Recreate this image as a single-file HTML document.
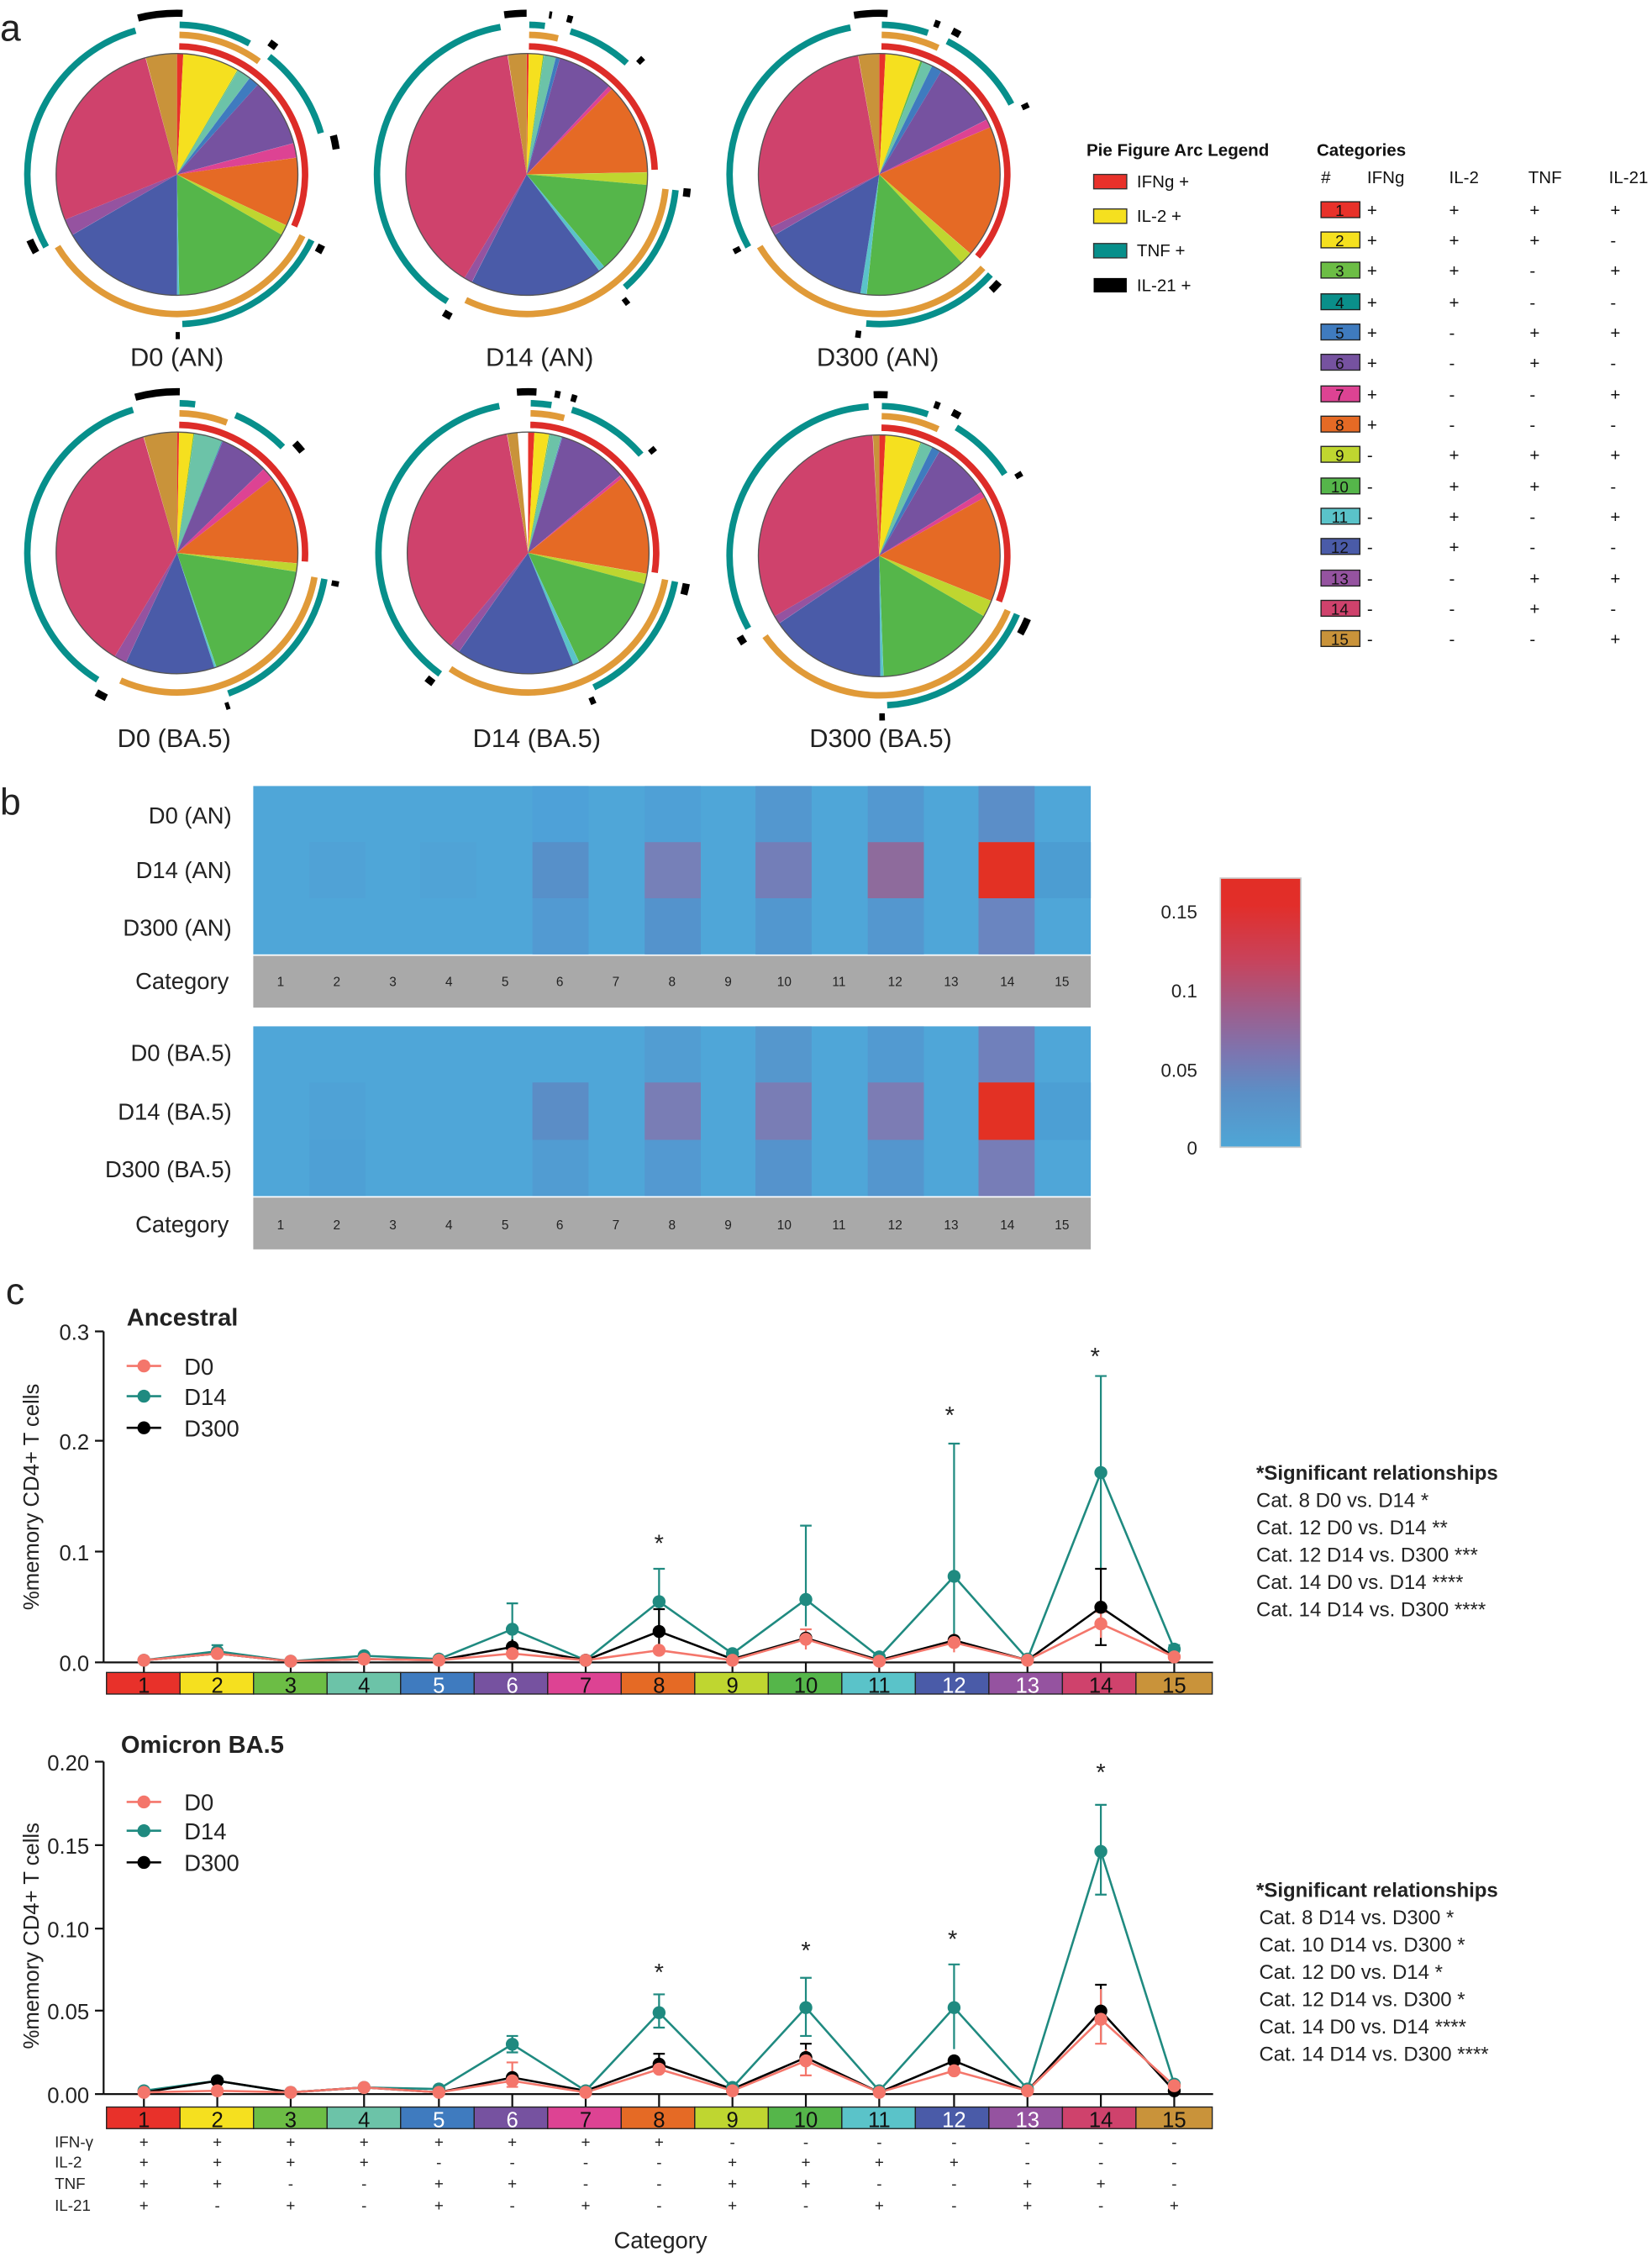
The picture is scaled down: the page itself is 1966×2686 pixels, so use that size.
<!DOCTYPE html>
<html><head><meta charset="utf-8">
<style>
html,body{margin:0;padding:0;background:#fff;}
svg{display:block;font-family:"Liberation Sans",Arial,sans-serif;}
.s{fill:none;stroke-width:84;}
.ar{fill:none;stroke:#dd2c28;stroke-width:4.5;}
.ao{fill:none;stroke:#e09a38;stroke-width:4.5;}
.at{fill:none;stroke:#078f8b;stroke-width:4.5;}
.ab{fill:none;stroke:#000;stroke-width:5;}
.c1{stroke:#e8312a}.c2{stroke:#f5e01f}.c3{stroke:#5cb946}.c4{stroke:#6cc3a8}.c5{stroke:#3f7bbf}
.c6{stroke:#7652a0}.c7{stroke:#dd4393}.c8{stroke:#e56a25}.c9{stroke:#bfd630}.c10{stroke:#55b64a}
.c11{stroke:#5ac3c9}.c12{stroke:#4a5ba8}.c13{stroke:#9553a0}.c14{stroke:#cf426c}.c15{stroke:#c9933a}
.lab{font-size:18px;text-anchor:middle;fill:#222;}
.t12{font-size:12px;fill:#111;}
.pm{font-size:12px;fill:#111;}
.hl{font-size:16px;text-anchor:end;fill:#222;}
.cn{font-size:9px;text-anchor:middle;fill:#222;}
.tk{font-size:15px;text-anchor:end;fill:#222;}
.sn{font-size:15px;text-anchor:middle;fill:#111;}
.sig{font-size:14px;fill:#222;}
.bm{font-size:11px;text-anchor:middle;fill:#222;}
</style></head><body>
<svg width="1966" height="2686" viewBox="0 0 1148 1568" xmlns="http://www.w3.org/2000/svg">
<defs>
<linearGradient id="cb" x1="0" y1="0" x2="0" y2="1">
<stop offset="0" stop-color="#e22e26"/><stop offset="0.1" stop-color="#e22e2a"/>
<stop offset="0.3" stop-color="#c9425a"/><stop offset="0.5" stop-color="#9c5f8e"/>
<stop offset="0.65" stop-color="#7c75b0"/><stop offset="0.8" stop-color="#5b8fc6"/>
<stop offset="1" stop-color="#4ea6d6"/>
</linearGradient>
</defs>
<text x="0" y="28" font-size="26" fill="#222">a</text>
<text x="0" y="566" font-size="26" fill="#222">b</text>
<text x="4" y="906" font-size="26" fill="#222">c</text>

<!-- Pie 1 D0 (AN) -->
<g transform="translate(123,121)">
<circle r="42" class="s c1" pathLength="360" stroke-dasharray="3 360" transform="rotate(-90)"/>
<circle r="42" class="s c2" pathLength="360" stroke-dasharray="27 360" transform="rotate(-87)"/>
<circle r="42" class="s c3" pathLength="360" stroke-dasharray="0.5 360" transform="rotate(-60)"/>
<circle r="42" class="s c4" pathLength="360" stroke-dasharray="6.5 360" transform="rotate(-59.5)"/>
<circle r="42" class="s c5" pathLength="360" stroke-dasharray="5 360" transform="rotate(-53)"/>
<circle r="42" class="s c6" pathLength="360" stroke-dasharray="33 360" transform="rotate(-48)"/>
<circle r="42" class="s c7" pathLength="360" stroke-dasharray="7 360" transform="rotate(-15)"/>
<circle r="42" class="s c8" pathLength="360" stroke-dasharray="33 360" transform="rotate(-8)"/>
<circle r="42" class="s c9" pathLength="360" stroke-dasharray="5 360" transform="rotate(25)"/>
<circle r="42" class="s c10" pathLength="360" stroke-dasharray="59 360" transform="rotate(30)"/>
<circle r="42" class="s c11" pathLength="360" stroke-dasharray="1 360" transform="rotate(89)"/>
<circle r="42" class="s c12" pathLength="360" stroke-dasharray="60 360" transform="rotate(90)"/>
<circle r="42" class="s c13" pathLength="360" stroke-dasharray="8 360" transform="rotate(150)"/>
<circle r="42" class="s c14" pathLength="360" stroke-dasharray="97 360" transform="rotate(158)"/>
<circle r="42" class="s c15" pathLength="360" stroke-dasharray="15 360" transform="rotate(255)"/>
<circle r="84" fill="none" stroke="#555" stroke-width="0.8"/>
<circle r="89" class="ar" pathLength="360" stroke-dasharray="113 360" transform="rotate(-89)"/>
<circle r="97" class="ao" pathLength="360" stroke-dasharray="35 360" transform="rotate(-89)"/>
<circle r="97" class="ao" pathLength="360" stroke-dasharray="123 360" transform="rotate(26)"/>
<circle r="104" class="at" pathLength="360" stroke-dasharray="28 360" transform="rotate(-89)"/>
<circle r="104" class="at" pathLength="360" stroke-dasharray="36 360" transform="rotate(-52)"/>
<circle r="104" class="at" pathLength="360" stroke-dasharray="62 360" transform="rotate(26)"/>
<circle r="104" class="at" pathLength="360" stroke-dasharray="103 360" transform="rotate(151)"/>
<circle r="112" class="ab" pathLength="360" stroke-dasharray="16 360" transform="rotate(256)"/>
<circle r="112" class="ab" pathLength="360" stroke-dasharray="3 360" transform="rotate(-55)"/>
<circle r="112" class="ab" pathLength="360" stroke-dasharray="5 360" transform="rotate(-14)"/>
<circle r="112" class="ab" pathLength="360" stroke-dasharray="3 360" transform="rotate(26)"/>
<circle r="112" class="ab" pathLength="360" stroke-dasharray="1.5 360" transform="rotate(89)"/>
<circle r="112" class="ab" pathLength="360" stroke-dasharray="5 360" transform="rotate(151)"/>
</g>
<text x="123" y="254" class="lab">D0 (AN)</text>

<!-- Pie 2 D14 (AN) -->
<g transform="translate(366,121)">
<circle r="42" class="s c1" pathLength="360" stroke-dasharray="1 360" transform="rotate(-90)"/>
<circle r="42" class="s c2" pathLength="360" stroke-dasharray="7 360" transform="rotate(-89)"/>
<circle r="42" class="s c3" pathLength="360" stroke-dasharray="0.3 360" transform="rotate(-82)"/>
<circle r="42" class="s c4" pathLength="360" stroke-dasharray="5.7 360" transform="rotate(-81.7)"/>
<circle r="42" class="s c5" pathLength="360" stroke-dasharray="2 360" transform="rotate(-76)"/>
<circle r="42" class="s c6" pathLength="360" stroke-dasharray="27 360" transform="rotate(-74)"/>
<circle r="42" class="s c7" pathLength="360" stroke-dasharray="2 360" transform="rotate(-47)"/>
<circle r="42" class="s c8" pathLength="360" stroke-dasharray="44 360" transform="rotate(-45)"/>
<circle r="42" class="s c9" pathLength="360" stroke-dasharray="6 360" transform="rotate(-1)"/>
<circle r="42" class="s c10" pathLength="360" stroke-dasharray="45 360" transform="rotate(5)"/>
<circle r="42" class="s c11" pathLength="360" stroke-dasharray="3 360" transform="rotate(50)"/>
<circle r="42" class="s c12" pathLength="360" stroke-dasharray="64 360" transform="rotate(53)"/>
<circle r="42" class="s c13" pathLength="360" stroke-dasharray="4 360" transform="rotate(117)"/>
<circle r="42" class="s c14" pathLength="360" stroke-dasharray="140 360" transform="rotate(121)"/>
<circle r="42" class="s c15" pathLength="360" stroke-dasharray="9 360" transform="rotate(261)"/>
<circle r="84" fill="none" stroke="#555" stroke-width="0.8"/>
<circle r="89" class="ar" pathLength="360" stroke-dasharray="87 360" transform="rotate(-89)"/>
<circle r="97" class="ao" pathLength="360" stroke-dasharray="12 360" transform="rotate(-89)"/>
<circle r="97" class="ao" pathLength="360" stroke-dasharray="110 360" transform="rotate(6)"/>
<circle r="104" class="at" pathLength="360" stroke-dasharray="6 360" transform="rotate(-89)"/>
<circle r="104" class="at" pathLength="360" stroke-dasharray="25 360" transform="rotate(-73)"/>
<circle r="104" class="at" pathLength="360" stroke-dasharray="43 360" transform="rotate(6)"/>
<circle r="104" class="at" pathLength="360" stroke-dasharray="138 360" transform="rotate(122)"/>
<circle r="112" class="ab" pathLength="360" stroke-dasharray="8 360" transform="rotate(262)"/>
<circle r="112" class="ab" pathLength="360" stroke-dasharray="1 360" transform="rotate(-82)"/>
<circle r="112" class="ab" pathLength="360" stroke-dasharray="2 360" transform="rotate(-75.5)"/>
<circle r="112" class="ab" pathLength="360" stroke-dasharray="2 360" transform="rotate(-46)"/>
<circle r="112" class="ab" pathLength="360" stroke-dasharray="3 360" transform="rotate(5)"/>
<circle r="112" class="ab" pathLength="360" stroke-dasharray="2 360" transform="rotate(51)"/>
<circle r="112" class="ab" pathLength="360" stroke-dasharray="3 360" transform="rotate(118)"/>
</g>
<text x="375" y="254" class="lab">D14 (AN)</text>

<!-- Pie 3 D300 (AN) -->
<g transform="translate(611,121)">
<circle r="42" class="s c1" pathLength="360" stroke-dasharray="3 360" transform="rotate(-90)"/>
<circle r="42" class="s c2" pathLength="360" stroke-dasharray="17 360" transform="rotate(-87)"/>
<circle r="42" class="s c3" pathLength="360" stroke-dasharray="1 360" transform="rotate(-70)"/>
<circle r="42" class="s c4" pathLength="360" stroke-dasharray="5 360" transform="rotate(-69)"/>
<circle r="42" class="s c5" pathLength="360" stroke-dasharray="5 360" transform="rotate(-64)"/>
<circle r="42" class="s c6" pathLength="360" stroke-dasharray="32 360" transform="rotate(-59)"/>
<circle r="42" class="s c7" pathLength="360" stroke-dasharray="4 360" transform="rotate(-27)"/>
<circle r="42" class="s c8" pathLength="360" stroke-dasharray="64 360" transform="rotate(-23)"/>
<circle r="42" class="s c9" pathLength="360" stroke-dasharray="6 360" transform="rotate(41)"/>
<circle r="42" class="s c10" pathLength="360" stroke-dasharray="49 360" transform="rotate(47)"/>
<circle r="42" class="s c11" pathLength="360" stroke-dasharray="3 360" transform="rotate(96)"/>
<circle r="42" class="s c12" pathLength="360" stroke-dasharray="51 360" transform="rotate(99)"/>
<circle r="42" class="s c13" pathLength="360" stroke-dasharray="4 360" transform="rotate(150)"/>
<circle r="42" class="s c14" pathLength="360" stroke-dasharray="106 360" transform="rotate(154)"/>
<circle r="42" class="s c15" pathLength="360" stroke-dasharray="10 360" transform="rotate(260)"/>
<circle r="84" fill="none" stroke="#555" stroke-width="0.8"/>
<circle r="89" class="ar" pathLength="360" stroke-dasharray="129 360" transform="rotate(-89)"/>
<circle r="97" class="ao" pathLength="360" stroke-dasharray="24 360" transform="rotate(-89)"/>
<circle r="97" class="ao" pathLength="360" stroke-dasharray="107 360" transform="rotate(42)"/>
<circle r="104" class="at" pathLength="360" stroke-dasharray="18 360" transform="rotate(-89)"/>
<circle r="104" class="at" pathLength="360" stroke-dasharray="35 360" transform="rotate(-63)"/>
<circle r="104" class="at" pathLength="360" stroke-dasharray="53 360" transform="rotate(42)"/>
<circle r="104" class="at" pathLength="360" stroke-dasharray="108 360" transform="rotate(151)"/>
<circle r="112" class="ab" pathLength="360" stroke-dasharray="12 360" transform="rotate(261)"/>
<circle r="112" class="ab" pathLength="360" stroke-dasharray="2 360" transform="rotate(-70)"/>
<circle r="112" class="ab" pathLength="360" stroke-dasharray="3 360" transform="rotate(-63)"/>
<circle r="112" class="ab" pathLength="360" stroke-dasharray="2 360" transform="rotate(-26)"/>
<circle r="112" class="ab" pathLength="360" stroke-dasharray="4 360" transform="rotate(42)"/>
<circle r="112" class="ab" pathLength="360" stroke-dasharray="2 360" transform="rotate(96.5)"/>
<circle r="112" class="ab" pathLength="360" stroke-dasharray="2 360" transform="rotate(151)"/>
</g>
<text x="610" y="254" class="lab">D300 (AN)</text>

<!-- Pie 4 D0 (BA.5) -->
<g transform="translate(123,384)">
<circle r="42" class="s c1" pathLength="360" stroke-dasharray="1 360" transform="rotate(-90)"/>
<circle r="42" class="s c2" pathLength="360" stroke-dasharray="7 360" transform="rotate(-89)"/>
<circle r="42" class="s c3" pathLength="360" stroke-dasharray="0.3 360" transform="rotate(-82)"/>
<circle r="42" class="s c4" pathLength="360" stroke-dasharray="13.7 360" transform="rotate(-81.7)"/>
<circle r="42" class="s c5" pathLength="360" stroke-dasharray="0.3 360" transform="rotate(-68)"/>
<circle r="42" class="s c6" pathLength="360" stroke-dasharray="23.7 360" transform="rotate(-67.7)"/>
<circle r="42" class="s c7" pathLength="360" stroke-dasharray="6 360" transform="rotate(-44)"/>
<circle r="42" class="s c8" pathLength="360" stroke-dasharray="43 360" transform="rotate(-38)"/>
<circle r="42" class="s c9" pathLength="360" stroke-dasharray="4 360" transform="rotate(5)"/>
<circle r="42" class="s c10" pathLength="360" stroke-dasharray="62 360" transform="rotate(9)"/>
<circle r="42" class="s c11" pathLength="360" stroke-dasharray="1 360" transform="rotate(71)"/>
<circle r="42" class="s c12" pathLength="360" stroke-dasharray="43 360" transform="rotate(72)"/>
<circle r="42" class="s c13" pathLength="360" stroke-dasharray="6 360" transform="rotate(115)"/>
<circle r="42" class="s c14" pathLength="360" stroke-dasharray="133 360" transform="rotate(121)"/>
<circle r="42" class="s c15" pathLength="360" stroke-dasharray="16 360" transform="rotate(254)"/>
<circle r="84" fill="none" stroke="#555" stroke-width="0.8"/>
<circle r="89" class="ar" pathLength="360" stroke-dasharray="93 360" transform="rotate(-89)"/>
<circle r="97" class="ao" pathLength="360" stroke-dasharray="20 360" transform="rotate(-89)"/>
<circle r="97" class="ao" pathLength="360" stroke-dasharray="104 360" transform="rotate(10)"/>
<circle r="104" class="at" pathLength="360" stroke-dasharray="6 360" transform="rotate(-89)"/>
<circle r="104" class="at" pathLength="360" stroke-dasharray="22 360" transform="rotate(-67)"/>
<circle r="104" class="at" pathLength="360" stroke-dasharray="60 360" transform="rotate(10)"/>
<circle r="104" class="at" pathLength="360" stroke-dasharray="131 360" transform="rotate(122)"/>
<circle r="112" class="ab" pathLength="360" stroke-dasharray="16 360" transform="rotate(255)"/>
<circle r="112" class="ab" pathLength="360" stroke-dasharray="4 360" transform="rotate(-43)"/>
<circle r="112" class="ab" pathLength="360" stroke-dasharray="2 360" transform="rotate(10)"/>
<circle r="112" class="ab" pathLength="360" stroke-dasharray="1.5 360" transform="rotate(71)"/>
<circle r="112" class="ab" pathLength="360" stroke-dasharray="4 360" transform="rotate(116)"/>
</g>
<text x="121" y="519" class="lab">D0 (BA.5)</text>

<!-- Pie 5 D14 (BA.5) -->
<g transform="translate(367,384)">
<circle r="42" class="s c1" pathLength="360" stroke-dasharray="3 360" transform="rotate(-90)"/>
<circle r="42" class="s c2" pathLength="360" stroke-dasharray="7 360" transform="rotate(-87)"/>
<circle r="42" class="s c3" pathLength="360" stroke-dasharray="0.5 360" transform="rotate(-80)"/>
<circle r="42" class="s c4" pathLength="360" stroke-dasharray="5.5 360" transform="rotate(-79.5)"/>
<circle r="42" class="s c5" pathLength="360" stroke-dasharray="0.5 360" transform="rotate(-74)"/>
<circle r="42" class="s c6" pathLength="360" stroke-dasharray="33.5 360" transform="rotate(-73.5)"/>
<circle r="42" class="s c7" pathLength="360" stroke-dasharray="1.5 360" transform="rotate(-40)"/>
<circle r="42" class="s c8" pathLength="360" stroke-dasharray="48.5 360" transform="rotate(-38.5)"/>
<circle r="42" class="s c9" pathLength="360" stroke-dasharray="5 360" transform="rotate(10)"/>
<circle r="42" class="s c10" pathLength="360" stroke-dasharray="50 360" transform="rotate(15)"/>
<circle r="42" class="s c11" pathLength="360" stroke-dasharray="3 360" transform="rotate(65)"/>
<circle r="42" class="s c12" pathLength="360" stroke-dasharray="57 360" transform="rotate(68)"/>
<circle r="42" class="s c13" pathLength="360" stroke-dasharray="5 360" transform="rotate(125)"/>
<circle r="42" class="s c14" pathLength="360" stroke-dasharray="130 360" transform="rotate(130)"/>
<circle r="42" class="s c15" pathLength="360" stroke-dasharray="5 360" transform="rotate(260)"/>
<circle r="84" fill="none" stroke="#555" stroke-width="0.8"/>
<circle r="89" class="ar" pathLength="360" stroke-dasharray="98 360" transform="rotate(-89)"/>
<circle r="97" class="ao" pathLength="360" stroke-dasharray="14 360" transform="rotate(-89)"/>
<circle r="97" class="ao" pathLength="360" stroke-dasharray="113 360" transform="rotate(11)"/>
<circle r="104" class="at" pathLength="360" stroke-dasharray="8 360" transform="rotate(-89)"/>
<circle r="104" class="at" pathLength="360" stroke-dasharray="32 360" transform="rotate(-73)"/>
<circle r="104" class="at" pathLength="360" stroke-dasharray="53 360" transform="rotate(11)"/>
<circle r="104" class="at" pathLength="360" stroke-dasharray="133 360" transform="rotate(126)"/>
<circle r="112" class="ab" pathLength="360" stroke-dasharray="7 360" transform="rotate(266)"/>
<circle r="112" class="ab" pathLength="360" stroke-dasharray="2 360" transform="rotate(-80.5)"/>
<circle r="112" class="ab" pathLength="360" stroke-dasharray="2 360" transform="rotate(-74.5)"/>
<circle r="112" class="ab" pathLength="360" stroke-dasharray="2 360" transform="rotate(-40.5)"/>
<circle r="112" class="ab" pathLength="360" stroke-dasharray="4 360" transform="rotate(11)"/>
<circle r="112" class="ab" pathLength="360" stroke-dasharray="2 360" transform="rotate(65.5)"/>
<circle r="112" class="ab" pathLength="360" stroke-dasharray="3 360" transform="rotate(126)"/>
</g>
<text x="373" y="519" class="lab">D14 (BA.5)</text>

<!-- Pie 6 D300 (BA.5) -->
<g transform="translate(611,386)">
<circle r="42" class="s c1" pathLength="360" stroke-dasharray="3 360" transform="rotate(-90)"/>
<circle r="42" class="s c2" pathLength="360" stroke-dasharray="17 360" transform="rotate(-87)"/>
<circle r="42" class="s c3" pathLength="360" stroke-dasharray="0.5 360" transform="rotate(-70)"/>
<circle r="42" class="s c4" pathLength="360" stroke-dasharray="5.5 360" transform="rotate(-69.5)"/>
<circle r="42" class="s c5" pathLength="360" stroke-dasharray="4 360" transform="rotate(-64)"/>
<circle r="42" class="s c6" pathLength="360" stroke-dasharray="28 360" transform="rotate(-60)"/>
<circle r="42" class="s c7" pathLength="360" stroke-dasharray="3 360" transform="rotate(-32)"/>
<circle r="42" class="s c8" pathLength="360" stroke-dasharray="51 360" transform="rotate(-29)"/>
<circle r="42" class="s c9" pathLength="360" stroke-dasharray="8 360" transform="rotate(22)"/>
<circle r="42" class="s c10" pathLength="360" stroke-dasharray="58 360" transform="rotate(30)"/>
<circle r="42" class="s c11" pathLength="360" stroke-dasharray="1.5 360" transform="rotate(88)"/>
<circle r="42" class="s c12" pathLength="360" stroke-dasharray="56.5 360" transform="rotate(89.5)"/>
<circle r="42" class="s c13" pathLength="360" stroke-dasharray="4 360" transform="rotate(146)"/>
<circle r="42" class="s c14" pathLength="360" stroke-dasharray="117 360" transform="rotate(150)"/>
<circle r="42" class="s c15" pathLength="360" stroke-dasharray="3 360" transform="rotate(267)"/>
<circle r="84" fill="none" stroke="#555" stroke-width="0.8"/>
<circle r="89" class="ar" pathLength="360" stroke-dasharray="110 360" transform="rotate(-89)"/>
<circle r="97" class="ao" pathLength="360" stroke-dasharray="24 360" transform="rotate(-89)"/>
<circle r="97" class="ao" pathLength="360" stroke-dasharray="122 360" transform="rotate(23)"/>
<circle r="104" class="at" pathLength="360" stroke-dasharray="18 360" transform="rotate(-89)"/>
<circle r="104" class="at" pathLength="360" stroke-dasharray="26 360" transform="rotate(-59)"/>
<circle r="104" class="at" pathLength="360" stroke-dasharray="64 360" transform="rotate(23)"/>
<circle r="104" class="at" pathLength="360" stroke-dasharray="115 360" transform="rotate(151)"/>
<circle r="112" class="ab" pathLength="360" stroke-dasharray="5 360" transform="rotate(268)"/>
<circle r="112" class="ab" pathLength="360" stroke-dasharray="2 360" transform="rotate(-70)"/>
<circle r="112" class="ab" pathLength="360" stroke-dasharray="3 360" transform="rotate(-63)"/>
<circle r="112" class="ab" pathLength="360" stroke-dasharray="2 360" transform="rotate(-31)"/>
<circle r="112" class="ab" pathLength="360" stroke-dasharray="6 360" transform="rotate(23)"/>
<circle r="112" class="ab" pathLength="360" stroke-dasharray="2 360" transform="rotate(88)"/>
<circle r="112" class="ab" pathLength="360" stroke-dasharray="3 360" transform="rotate(147)"/>
</g>
<text x="612" y="519" class="lab">D300 (BA.5)</text>

<!-- Arc legend -->
<text x="755" y="108" font-size="12" font-weight="bold" fill="#111">Pie Figure Arc Legend</text>
<rect x="760" y="121" width="23" height="10" fill="#e8312a" stroke="#333" stroke-width="0.8"/>
<text x="790" y="130" class="t12">IFNg +</text>
<rect x="760" y="145" width="23" height="10" fill="#f5e01f" stroke="#333" stroke-width="0.8"/>
<text x="790" y="154" class="t12">IL-2 +</text>
<rect x="760" y="169" width="23" height="10" fill="#078f8b" stroke="#333" stroke-width="0.8"/>
<text x="790" y="178" class="t12">TNF +</text>
<rect x="760" y="193" width="23" height="10" fill="#000"/>
<text x="790" y="202" class="t12">IL-21 +</text>

<!-- Categories table -->
<text x="915" y="108" font-size="12" font-weight="bold" fill="#111">Categories</text>
<text x="918" y="127" class="t12">#</text>
<text x="950" y="127" class="t12">IFNg</text>
<text x="1007" y="127" class="t12">IL-2</text>
<text x="1062" y="127" class="t12">TNF</text>
<text x="1118" y="127" class="t12">IL-21</text>
<g font-size="11" text-anchor="middle" fill="#111">
<rect x="918" y="140" width="27" height="11" fill="#e8312a" stroke="#222" stroke-width="0.8"/><text x="931" y="150">1</text>
<rect x="918" y="161" width="27" height="11" fill="#f5e01f" stroke="#222" stroke-width="0.8"/><text x="931" y="171">2</text>
<rect x="918" y="182" width="27" height="11" fill="#6cbd45" stroke="#222" stroke-width="0.8"/><text x="931" y="192">3</text>
<rect x="918" y="204" width="27" height="11" fill="#0a8f8a" stroke="#222" stroke-width="0.8"/><text x="931" y="214">4</text>
<rect x="918" y="225" width="27" height="11" fill="#3f7bbf" stroke="#222" stroke-width="0.8"/><text x="931" y="235">5</text>
<rect x="918" y="246" width="27" height="11" fill="#7652a0" stroke="#222" stroke-width="0.8"/><text x="931" y="256">6</text>
<rect x="918" y="268" width="27" height="11" fill="#dd4393" stroke="#222" stroke-width="0.8"/><text x="931" y="278">7</text>
<rect x="918" y="289" width="27" height="11" fill="#e56a25" stroke="#222" stroke-width="0.8"/><text x="931" y="299">8</text>
<rect x="918" y="310" width="27" height="11" fill="#bfd630" stroke="#222" stroke-width="0.8"/><text x="931" y="320">9</text>
<rect x="918" y="332" width="27" height="11" fill="#55b64a" stroke="#222" stroke-width="0.8"/><text x="931" y="342">10</text>
<rect x="918" y="353" width="27" height="11" fill="#5ac3c9" stroke="#222" stroke-width="0.8"/><text x="931" y="363">11</text>
<rect x="918" y="374" width="27" height="11" fill="#4a5ba8" stroke="#222" stroke-width="0.8"/><text x="931" y="384">12</text>
<rect x="918" y="396" width="27" height="11" fill="#9553a0" stroke="#222" stroke-width="0.8"/><text x="931" y="406">13</text>
<rect x="918" y="417" width="27" height="11" fill="#cf426c" stroke="#222" stroke-width="0.8"/><text x="931" y="427">14</text>
<rect x="918" y="438" width="27" height="11" fill="#c9933a" stroke="#222" stroke-width="0.8"/><text x="931" y="448">15</text>
</g>
<g class="pm">
<text x="950" y="150">+</text><text x="1007" y="150">+</text><text x="1063" y="150">+</text><text x="1119" y="150">+</text>
<text x="950" y="171">+</text><text x="1007" y="171">+</text><text x="1063" y="171">+</text><text x="1119" y="171">-</text>
<text x="950" y="192">+</text><text x="1007" y="192">+</text><text x="1063" y="192">-</text><text x="1119" y="192">+</text>
<text x="950" y="214">+</text><text x="1007" y="214">+</text><text x="1063" y="214">-</text><text x="1119" y="214">-</text>
<text x="950" y="235">+</text><text x="1007" y="235">-</text><text x="1063" y="235">+</text><text x="1119" y="235">+</text>
<text x="950" y="256">+</text><text x="1007" y="256">-</text><text x="1063" y="256">+</text><text x="1119" y="256">-</text>
<text x="950" y="278">+</text><text x="1007" y="278">-</text><text x="1063" y="278">-</text><text x="1119" y="278">+</text>
<text x="950" y="299">+</text><text x="1007" y="299">-</text><text x="1063" y="299">-</text><text x="1119" y="299">-</text>
<text x="950" y="320">-</text><text x="1007" y="320">+</text><text x="1063" y="320">+</text><text x="1119" y="320">+</text>
<text x="950" y="342">-</text><text x="1007" y="342">+</text><text x="1063" y="342">+</text><text x="1119" y="342">-</text>
<text x="950" y="363">-</text><text x="1007" y="363">+</text><text x="1063" y="363">-</text><text x="1119" y="363">+</text>
<text x="950" y="384">-</text><text x="1007" y="384">+</text><text x="1063" y="384">-</text><text x="1119" y="384">-</text>
<text x="950" y="406">-</text><text x="1007" y="406">-</text><text x="1063" y="406">+</text><text x="1119" y="406">+</text>
<text x="950" y="427">-</text><text x="1007" y="427">-</text><text x="1063" y="427">+</text><text x="1119" y="427">-</text>
<text x="950" y="448">-</text><text x="1007" y="448">-</text><text x="1063" y="448">-</text><text x="1119" y="448">+</text>
</g>

<!-- Panel b heatmaps -->
<rect x="176" y="546" width="582" height="117" fill="#4fa6d8"/>
<g>
<rect x="370" y="546" width="39" height="39" fill="#4ea1d8"/>
<rect x="448" y="546" width="39" height="39" fill="#4fa0d6"/>
<rect x="525" y="546" width="39" height="39" fill="#5397cf"/>
<rect x="603" y="546" width="39" height="39" fill="#5398d0"/>
<rect x="680" y="546" width="39" height="39" fill="#5b8ec8"/>
<rect x="215" y="585" width="39" height="39" fill="#50a2d6"/>
<rect x="292" y="585" width="39" height="39" fill="#50a3d6"/>
<rect x="370" y="585" width="39" height="39" fill="#5790c9"/>
<rect x="448" y="585" width="39" height="39" fill="#7680b8"/>
<rect x="525" y="585" width="39" height="39" fill="#737eb8"/>
<rect x="603" y="585" width="39" height="39" fill="#8e6b9c"/>
<rect x="680" y="585" width="39" height="39" fill="#e33124"/>
<rect x="719" y="585" width="39" height="39" fill="#4c9dd2"/>
<rect x="370" y="624" width="39" height="39" fill="#529ad2"/>
<rect x="448" y="624" width="39" height="39" fill="#5493cc"/>
<rect x="525" y="624" width="39" height="39" fill="#5297cf"/>
<rect x="603" y="624" width="39" height="39" fill="#5497cf"/>
<rect x="680" y="624" width="39" height="39" fill="#6a85c0"/>
</g>
<rect x="176" y="664" width="582" height="36" fill="#a9a9a9"/>
<rect x="176" y="713" width="582" height="118" fill="#4fa6d8"/>
<g>
<rect x="448" y="713" width="39" height="39" fill="#529dd2"/>
<rect x="525" y="713" width="39" height="39" fill="#5597cd"/>
<rect x="603" y="713" width="39" height="39" fill="#529ad1"/>
<rect x="680" y="713" width="39" height="39" fill="#7080bb"/>
<rect x="215" y="752" width="39" height="40" fill="#4fa2d6"/>
<rect x="370" y="752" width="39" height="40" fill="#5b8dc6"/>
<rect x="448" y="752" width="39" height="40" fill="#797db5"/>
<rect x="525" y="752" width="39" height="40" fill="#797db5"/>
<rect x="603" y="752" width="39" height="40" fill="#7c7cb4"/>
<rect x="680" y="752" width="39" height="40" fill="#e33124"/>
<rect x="719" y="752" width="39" height="40" fill="#4c9fd4"/>
<rect x="215" y="792" width="39" height="39" fill="#4ea0d5"/>
<rect x="370" y="792" width="39" height="39" fill="#519cd2"/>
<rect x="448" y="792" width="39" height="39" fill="#5399d1"/>
<rect x="525" y="792" width="39" height="39" fill="#5593cc"/>
<rect x="603" y="792" width="39" height="39" fill="#5496ce"/>
<rect x="680" y="792" width="39" height="39" fill="#777db7"/>
</g>
<rect x="176" y="832" width="582" height="36" fill="#a9a9a9"/>
<g class="hl">
<text x="161" y="572">D0 (AN)</text>
<text x="161" y="610">D14 (AN)</text>
<text x="161" y="650">D300 (AN)</text>
<text x="159" y="687">Category</text>
<text x="161" y="737">D0 (BA.5)</text>
<text x="161" y="778">D14 (BA.5)</text>
<text x="161" y="818">D300 (BA.5)</text>
<text x="159" y="856">Category</text>
</g>
<g class="cn">
<text x="195" y="685">1</text><text x="234" y="685">2</text><text x="273" y="685">3</text><text x="312" y="685">4</text><text x="351" y="685">5</text><text x="389" y="685">6</text><text x="428" y="685">7</text><text x="467" y="685">8</text><text x="506" y="685">9</text><text x="545" y="685">10</text><text x="583" y="685">11</text><text x="622" y="685">12</text><text x="661" y="685">13</text><text x="700" y="685">14</text><text x="738" y="685">15</text>
<text x="195" y="854">1</text><text x="234" y="854">2</text><text x="273" y="854">3</text><text x="312" y="854">4</text><text x="351" y="854">5</text><text x="389" y="854">6</text><text x="428" y="854">7</text><text x="467" y="854">8</text><text x="506" y="854">9</text><text x="545" y="854">10</text><text x="583" y="854">11</text><text x="622" y="854">12</text><text x="661" y="854">13</text><text x="700" y="854">14</text><text x="738" y="854">15</text>
</g>
<rect x="848" y="610" width="56" height="187" fill="url(#cb)" stroke="#ccc" stroke-width="1"/>
<g font-size="13" text-anchor="end" fill="#222">
<text x="832" y="638">0.15</text><text x="832" y="693">0.1</text><text x="832" y="748">0.05</text><text x="832" y="802">0</text>
</g>

<!-- Panel c top chart -->
<text x="88" y="921" font-size="17" font-weight="bold" fill="#222">Ancestral</text>
<line x1="72" y1="925" x2="72" y2="1155" stroke="#111" stroke-width="1.3"/>
<line x1="72" y1="1155" x2="843" y2="1155" stroke="#111" stroke-width="1.3"/>
<g stroke="#111" stroke-width="1.3">
<line x1="66" y1="925" x2="72" y2="925"/><line x1="66" y1="1001" x2="72" y2="1001"/><line x1="66" y1="1078" x2="72" y2="1078"/><line x1="66" y1="1155" x2="72" y2="1155"/>
<line x1="100" y1="1155" x2="100" y2="1162"/><line x1="151" y1="1155" x2="151" y2="1162"/><line x1="202" y1="1155" x2="202" y2="1162"/><line x1="253" y1="1155" x2="253" y2="1162"/><line x1="305" y1="1155" x2="305" y2="1162"/><line x1="356" y1="1155" x2="356" y2="1162"/><line x1="407" y1="1155" x2="407" y2="1162"/><line x1="458" y1="1155" x2="458" y2="1162"/><line x1="509" y1="1155" x2="509" y2="1162"/><line x1="560" y1="1155" x2="560" y2="1162"/><line x1="611" y1="1155" x2="611" y2="1162"/><line x1="663" y1="1155" x2="663" y2="1162"/><line x1="714" y1="1155" x2="714" y2="1162"/><line x1="765" y1="1155" x2="765" y2="1162"/><line x1="816" y1="1155" x2="816" y2="1162"/>
</g>
<g class="tk"><text x="62" y="931">0.3</text><text x="62" y="1007">0.2</text><text x="62" y="1084">0.1</text><text x="62" y="1161">0.0</text></g>
<text transform="translate(27,1040) rotate(-90)" font-size="15" text-anchor="middle" fill="#222">%memory CD4+ T cells</text>
<!-- strip top -->
<g stroke="#222" stroke-width="0.8">
<rect x="74" y="1162" width="51.1" height="15" fill="#e8312a"/><rect x="125.1" y="1162" width="51.1" height="15" fill="#f5e01f"/><rect x="176.2" y="1162" width="51.1" height="15" fill="#6cbd45"/><rect x="227.3" y="1162" width="51.1" height="15" fill="#6cc3a8"/><rect x="278.4" y="1162" width="51.1" height="15" fill="#3f7bbf"/><rect x="329.5" y="1162" width="51.1" height="15" fill="#7652a0"/><rect x="380.6" y="1162" width="51.1" height="15" fill="#dd4393"/><rect x="431.7" y="1162" width="51.1" height="15" fill="#e56a25"/><rect x="482.8" y="1162" width="51.1" height="15" fill="#bfd630"/><rect x="533.9" y="1162" width="51.1" height="15" fill="#55b64a"/><rect x="585" y="1162" width="51.1" height="15" fill="#5ac3c9"/><rect x="636.1" y="1162" width="51.1" height="15" fill="#4a5ba8"/><rect x="687.2" y="1162" width="51.1" height="15" fill="#9553a0"/><rect x="738.3" y="1162" width="51.1" height="15" fill="#cf426c"/><rect x="789.4" y="1162" width="53" height="15" fill="#c9933a"/>
</g>
<g class="sn">
<text x="100" y="1176">1</text><text x="151" y="1176">2</text><text x="202" y="1176">3</text><text x="253" y="1176">4</text><text x="305" y="1176" fill="#fff">5</text><text x="356" y="1176" fill="#fff">6</text><text x="407" y="1176">7</text><text x="458" y="1176">8</text><text x="509" y="1176">9</text><text x="560" y="1176">10</text><text x="611" y="1176">11</text><text x="663" y="1176" fill="#fff">12</text><text x="714" y="1176" fill="#fff">13</text><text x="765" y="1176">14</text><text x="816" y="1176">15</text>
</g>
<!-- error bars top -->
<g stroke="#1f8a80" stroke-width="1.3">
<path d="M151 1143V1151M147 1143H155M356 1114V1147M352 1114H360M458 1090V1136M454 1090H462M560 1060V1130M556 1060H564M663 1003V1140M659 1003H667M765 956V1090M761 956H769M816 1143H820M812 1143H820"/>
</g>
<g stroke="#000" stroke-width="1.3">
<path d="M765 1090V1143M761 1090H769M761 1143H769M458 1118V1146M454 1118H462M356 1139V1148"/>
</g>
<g stroke="#f4766b" stroke-width="1.3"><path d="M560 1132V1146M556 1132H564M765 1120V1138M761 1120H769M663 1135V1148"/></g>
<polyline fill="none" stroke="#1f8a80" stroke-width="1.5" points="100,1153.5 151,1147.3 202,1154.2 253,1150.4 305,1152.7 356,1132 407,1153.5 458,1112.8 509,1148.9 560,1111.3 611,1151.2 663,1095.2 714,1152.7 765,1023.1 816,1145.8"/>
<polyline fill="none" stroke="#000" stroke-width="1.5" points="100,1153.5 151,1148.9 202,1154.2 253,1152.7 305,1153.5 356,1144.3 407,1153.5 458,1133.5 509,1152.7 560,1138.1 611,1153.5 663,1139.7 714,1153.5 765,1116.7 816,1151.2"/>
<polyline fill="none" stroke="#f4766b" stroke-width="1.5" points="100,1153.5 151,1148.9 202,1154.2 253,1152.7 305,1153.5 356,1148.9 407,1153.5 458,1146.6 509,1153.5 560,1138.9 611,1154.2 663,1141.2 714,1153.5 765,1128.2 816,1151.2"/>
<g fill="#1f8a80"><circle cx="100" cy="1153.5" r="4.5"/><circle cx="151" cy="1147.3" r="4.5"/><circle cx="202" cy="1154.2" r="4.5"/><circle cx="253" cy="1150.4" r="4.5"/><circle cx="305" cy="1152.7" r="4.5"/><circle cx="356" cy="1132" r="4.5"/><circle cx="407" cy="1153.5" r="4.5"/><circle cx="458" cy="1112.8" r="4.5"/><circle cx="509" cy="1148.9" r="4.5"/><circle cx="560" cy="1111.3" r="4.5"/><circle cx="611" cy="1151.2" r="4.5"/><circle cx="663" cy="1095.2" r="4.5"/><circle cx="714" cy="1152.7" r="4.5"/><circle cx="765" cy="1023.1" r="4.5"/><circle cx="816" cy="1145.8" r="4.5"/></g>
<g fill="#000"><circle cx="356" cy="1144.3" r="4.5"/><circle cx="458" cy="1133.5" r="4.5"/><circle cx="560" cy="1138.1" r="4.5"/><circle cx="663" cy="1139.7" r="4.5"/><circle cx="765" cy="1116.7" r="4.5"/><circle cx="407" cy="1153.5" r="4.5"/></g>
<g fill="#f4766b"><circle cx="100" cy="1153.5" r="4.5"/><circle cx="151" cy="1148.9" r="4.5"/><circle cx="202" cy="1154.2" r="4.5"/><circle cx="253" cy="1152.7" r="4.5"/><circle cx="305" cy="1153.5" r="4.5"/><circle cx="356" cy="1148.9" r="4.5"/><circle cx="407" cy="1153.5" r="4.5"/><circle cx="458" cy="1146.6" r="4.5"/><circle cx="509" cy="1153.5" r="4.5"/><circle cx="560" cy="1138.9" r="4.5"/><circle cx="611" cy="1154.2" r="4.5"/><circle cx="663" cy="1141.2" r="4.5"/><circle cx="714" cy="1153.5" r="4.5"/><circle cx="765" cy="1128.2" r="4.5"/><circle cx="816" cy="1151.2" r="4.5"/></g>
<g font-size="17" text-anchor="middle" fill="#222"><text x="458" y="1078">*</text><text x="660" y="989">*</text><text x="761" y="948">*</text></g>
<!-- legend top -->
<g><line x1="88" y1="949" x2="112" y2="949" stroke="#f4766b" stroke-width="1.5"/><circle cx="100" cy="949" r="4.5" fill="#f4766b"/>
<line x1="88" y1="970" x2="112" y2="970" stroke="#1f8a80" stroke-width="1.5"/><circle cx="100" cy="970" r="4.5" fill="#1f8a80"/>
<line x1="88" y1="992" x2="112" y2="992" stroke="#000" stroke-width="1.5"/><circle cx="100" cy="992" r="4.5" fill="#000"/></g>
<g font-size="16" fill="#222"><text x="128" y="955">D0</text><text x="128" y="976">D14</text><text x="128" y="998">D300</text></g>
<text x="873" y="1028" font-size="14" font-weight="bold" fill="#222">*Significant relationships</text>
<g class="sig"><text x="873" y="1047">Cat. 8 D0 vs. D14 *</text><text x="873" y="1066">Cat. 12 D0 vs. D14 **</text><text x="873" y="1085">Cat. 12 D14 vs. D300 ***</text><text x="873" y="1104">Cat. 14 D0 vs. D14 ****</text><text x="873" y="1123">Cat. 14 D14 vs. D300 ****</text></g>

<!-- Panel c bottom chart -->
<text x="84" y="1218" font-size="17" font-weight="bold" fill="#222">Omicron BA.5</text>
<line x1="72" y1="1224" x2="72" y2="1455" stroke="#111" stroke-width="1.3"/>
<line x1="72" y1="1455" x2="843" y2="1455" stroke="#111" stroke-width="1.3"/>
<g stroke="#111" stroke-width="1.3">
<line x1="66" y1="1224" x2="72" y2="1224"/><line x1="66" y1="1282" x2="72" y2="1282"/><line x1="66" y1="1340" x2="72" y2="1340"/><line x1="66" y1="1397" x2="72" y2="1397"/><line x1="66" y1="1455" x2="72" y2="1455"/>
<line x1="100" y1="1455" x2="100" y2="1464"/><line x1="151" y1="1455" x2="151" y2="1464"/><line x1="202" y1="1455" x2="202" y2="1464"/><line x1="253" y1="1455" x2="253" y2="1464"/><line x1="305" y1="1455" x2="305" y2="1464"/><line x1="356" y1="1455" x2="356" y2="1464"/><line x1="407" y1="1455" x2="407" y2="1464"/><line x1="458" y1="1455" x2="458" y2="1464"/><line x1="509" y1="1455" x2="509" y2="1464"/><line x1="560" y1="1455" x2="560" y2="1464"/><line x1="611" y1="1455" x2="611" y2="1464"/><line x1="663" y1="1455" x2="663" y2="1464"/><line x1="714" y1="1455" x2="714" y2="1464"/><line x1="765" y1="1455" x2="765" y2="1464"/><line x1="816" y1="1455" x2="816" y2="1464"/>
</g>
<g class="tk"><text x="62" y="1230">0.20</text><text x="62" y="1288">0.15</text><text x="62" y="1346">0.10</text><text x="62" y="1403">0.05</text><text x="62" y="1461">0.00</text></g>
<text transform="translate(27,1345) rotate(-90)" font-size="15" text-anchor="middle" fill="#222">%memory CD4+ T cells</text>
<g stroke="#222" stroke-width="0.8">
<rect x="74" y="1464" width="51.1" height="15" fill="#e8312a"/><rect x="125.1" y="1464" width="51.1" height="15" fill="#f5e01f"/><rect x="176.2" y="1464" width="51.1" height="15" fill="#6cbd45"/><rect x="227.3" y="1464" width="51.1" height="15" fill="#6cc3a8"/><rect x="278.4" y="1464" width="51.1" height="15" fill="#3f7bbf"/><rect x="329.5" y="1464" width="51.1" height="15" fill="#7652a0"/><rect x="380.6" y="1464" width="51.1" height="15" fill="#dd4393"/><rect x="431.7" y="1464" width="51.1" height="15" fill="#e56a25"/><rect x="482.8" y="1464" width="51.1" height="15" fill="#bfd630"/><rect x="533.9" y="1464" width="51.1" height="15" fill="#55b64a"/><rect x="585" y="1464" width="51.1" height="15" fill="#5ac3c9"/><rect x="636.1" y="1464" width="51.1" height="15" fill="#4a5ba8"/><rect x="687.2" y="1464" width="51.1" height="15" fill="#9553a0"/><rect x="738.3" y="1464" width="51.1" height="15" fill="#cf426c"/><rect x="789.4" y="1464" width="53" height="15" fill="#c9933a"/>
</g>
<g class="sn">
<text x="100" y="1478">1</text><text x="151" y="1478">2</text><text x="202" y="1478">3</text><text x="253" y="1478">4</text><text x="305" y="1478" fill="#fff">5</text><text x="356" y="1478" fill="#fff">6</text><text x="407" y="1478">7</text><text x="458" y="1478">8</text><text x="509" y="1478">9</text><text x="560" y="1478">10</text><text x="611" y="1478">11</text><text x="663" y="1478" fill="#fff">12</text><text x="714" y="1478" fill="#fff">13</text><text x="765" y="1478">14</text><text x="816" y="1478">15</text>
</g>
<g stroke="#1f8a80" stroke-width="1.3">
<path d="M356 1414.6V1426M352 1414.6H360M352 1426H360M458 1385.7V1408.8M454 1385.7H462M454 1408.8H462M560 1374.2V1414.6M556 1374.2H564M556 1414.6H564M663 1364.9V1423.8M659 1364.9H667M765 1254V1316.4M761 1254H769M761 1316.4H769"/>
</g>
<g stroke="#000" stroke-width="1.3"><path d="M458 1427V1440M454 1427H462M560 1420V1438M556 1420H564M765 1379V1418M761 1379H769"/></g>
<g stroke="#f4766b" stroke-width="1.3"><path d="M356 1433V1450M352 1433H360M352 1450H360M560 1424V1442M556 1442H564M765 1382V1420M761 1420H769"/></g>
<polyline fill="none" stroke="#1f8a80" stroke-width="1.5" points="100,1452.7 151,1445.8 202,1453.8 253,1450.4 305,1451.5 356,1420.4 407,1452.7 458,1398.4 509,1450.4 560,1394.9 611,1452.7 663,1394.9 714,1451.5 765,1286.4 816,1448.1"/>
<polyline fill="none" stroke="#000" stroke-width="1.5" points="100,1453.8 151,1445.8 202,1453.8 253,1450.4 305,1453.8 356,1443.5 407,1452.7 458,1434.2 509,1451.5 560,1429.6 611,1453.8 663,1431.9 714,1452.7 765,1397.3 816,1452.7"/>
<polyline fill="none" stroke="#f4766b" stroke-width="1.5" points="100,1453.8 151,1452.7 202,1453.8 253,1450.4 305,1453.8 356,1445.8 407,1453.8 458,1437.7 509,1452.7 560,1431.9 611,1453.8 663,1438.8 714,1452.7 765,1403 816,1449.2"/>
<g fill="#1f8a80"><circle cx="100" cy="1452.7" r="4.5"/><circle cx="151" cy="1445.8" r="4.5"/><circle cx="202" cy="1453.8" r="4.5"/><circle cx="253" cy="1450.4" r="4.5"/><circle cx="305" cy="1451.5" r="4.5"/><circle cx="356" cy="1420.4" r="4.5"/><circle cx="407" cy="1452.7" r="4.5"/><circle cx="458" cy="1398.4" r="4.5"/><circle cx="509" cy="1450.4" r="4.5"/><circle cx="560" cy="1394.9" r="4.5"/><circle cx="611" cy="1452.7" r="4.5"/><circle cx="663" cy="1394.9" r="4.5"/><circle cx="714" cy="1451.5" r="4.5"/><circle cx="765" cy="1286.4" r="4.5"/><circle cx="816" cy="1448.1" r="4.5"/></g>
<g fill="#000"><circle cx="151" cy="1445.8" r="4.5"/><circle cx="356" cy="1443.5" r="4.5"/><circle cx="458" cy="1434.2" r="4.5"/><circle cx="560" cy="1429.6" r="4.5"/><circle cx="663" cy="1431.9" r="4.5"/><circle cx="765" cy="1397.3" r="4.5"/><circle cx="816" cy="1452.7" r="4.5"/></g>
<g fill="#f4766b"><circle cx="100" cy="1453.8" r="4.5"/><circle cx="151" cy="1452.7" r="4.5"/><circle cx="202" cy="1453.8" r="4.5"/><circle cx="253" cy="1450.4" r="4.5"/><circle cx="305" cy="1453.8" r="4.5"/><circle cx="356" cy="1445.8" r="4.5"/><circle cx="407" cy="1453.8" r="4.5"/><circle cx="458" cy="1437.7" r="4.5"/><circle cx="509" cy="1452.7" r="4.5"/><circle cx="560" cy="1431.9" r="4.5"/><circle cx="611" cy="1453.8" r="4.5"/><circle cx="663" cy="1438.8" r="4.5"/><circle cx="714" cy="1452.7" r="4.5"/><circle cx="765" cy="1403" r="4.5"/><circle cx="816" cy="1449.2" r="4.5"/></g>
<g font-size="17" text-anchor="middle" fill="#222"><text x="458" y="1376">*</text><text x="560" y="1361">*</text><text x="662" y="1353">*</text><text x="765" y="1237">*</text></g>
<g><line x1="88" y1="1252" x2="112" y2="1252" stroke="#f4766b" stroke-width="1.5"/><circle cx="100" cy="1252" r="4.5" fill="#f4766b"/>
<line x1="88" y1="1272" x2="112" y2="1272" stroke="#1f8a80" stroke-width="1.5"/><circle cx="100" cy="1272" r="4.5" fill="#1f8a80"/>
<line x1="88" y1="1294" x2="112" y2="1294" stroke="#000" stroke-width="1.5"/><circle cx="100" cy="1294" r="4.5" fill="#000"/></g>
<g font-size="16" fill="#222"><text x="128" y="1258">D0</text><text x="128" y="1278">D14</text><text x="128" y="1300">D300</text></g>
<text x="873" y="1318" font-size="14" font-weight="bold" fill="#222">*Significant relationships</text>
<g class="sig"><text x="875" y="1337">Cat. 8 D14 vs. D300 *</text><text x="875" y="1356">Cat. 10 D14 vs. D300 *</text><text x="875" y="1375">Cat. 12 D0 vs. D14 *</text><text x="875" y="1394">Cat. 12 D14 vs. D300 *</text><text x="875" y="1413">Cat. 14 D0 vs. D14 ****</text><text x="875" y="1432">Cat. 14 D14 vs. D300 ****</text></g>

<!-- bottom +/- rows -->
<g font-size="11" fill="#222"><text x="38" y="1492">IFN-γ</text><text x="38" y="1506">IL-2</text><text x="38" y="1521">TNF</text><text x="38" y="1536">IL-21</text></g>
<g class="bm">
<text x="100" y="1492">+</text><text x="151" y="1492">+</text><text x="202" y="1492">+</text><text x="253" y="1492">+</text><text x="305" y="1492">+</text><text x="356" y="1492">+</text><text x="407" y="1492">+</text><text x="458" y="1492">+</text><text x="509" y="1492">-</text><text x="560" y="1492">-</text><text x="611" y="1492">-</text><text x="663" y="1492">-</text><text x="714" y="1492">-</text><text x="765" y="1492">-</text><text x="816" y="1492">-</text>
<text x="100" y="1506">+</text><text x="151" y="1506">+</text><text x="202" y="1506">+</text><text x="253" y="1506">+</text><text x="305" y="1506">-</text><text x="356" y="1506">-</text><text x="407" y="1506">-</text><text x="458" y="1506">-</text><text x="509" y="1506">+</text><text x="560" y="1506">+</text><text x="611" y="1506">+</text><text x="663" y="1506">+</text><text x="714" y="1506">-</text><text x="765" y="1506">-</text><text x="816" y="1506">-</text>
<text x="100" y="1521">+</text><text x="151" y="1521">+</text><text x="202" y="1521">-</text><text x="253" y="1521">-</text><text x="305" y="1521">+</text><text x="356" y="1521">+</text><text x="407" y="1521">-</text><text x="458" y="1521">-</text><text x="509" y="1521">+</text><text x="560" y="1521">+</text><text x="611" y="1521">-</text><text x="663" y="1521">-</text><text x="714" y="1521">+</text><text x="765" y="1521">+</text><text x="816" y="1521">-</text>
<text x="100" y="1536">+</text><text x="151" y="1536">-</text><text x="202" y="1536">+</text><text x="253" y="1536">-</text><text x="305" y="1536">+</text><text x="356" y="1536">-</text><text x="407" y="1536">+</text><text x="458" y="1536">-</text><text x="509" y="1536">+</text><text x="560" y="1536">-</text><text x="611" y="1536">+</text><text x="663" y="1536">-</text><text x="714" y="1536">+</text><text x="765" y="1536">-</text><text x="816" y="1536">+</text>
</g>
<text x="459" y="1562" font-size="16" text-anchor="middle" fill="#222">Category</text>
</svg>
</body></html>
